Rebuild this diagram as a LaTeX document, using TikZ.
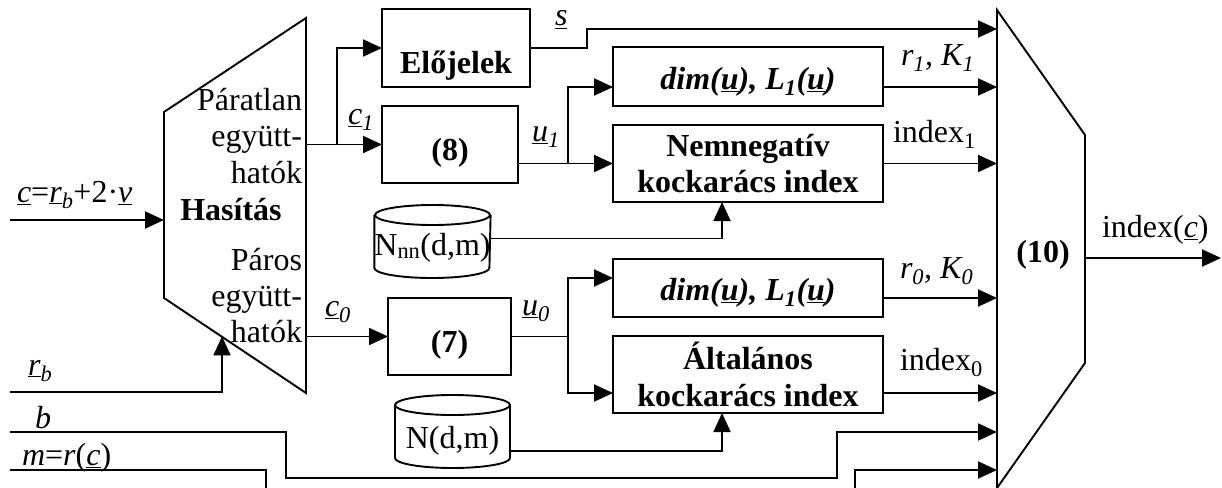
\documentclass[tikz,border=0pt]{standalone}
\usepackage{fontspec}
\setmainfont{Liberation Serif}
\usetikzlibrary{arrows.meta,calc}
\newcommand{\uv}[1]{\underline{\textit{#1}}}
\begin{document}
\begin{tikzpicture}[x=1pt,y=-1pt,line width=1.9pt,
  every node/.style={font=\fontsize{32}{36.5}\selectfont,inner sep=0pt,outer sep=0pt},
  blk/.style={draw,rectangle},
  bf/.style={font=\fontsize{32}{36.5}\selectfont\bfseries},
  lbl/.style={anchor=base west},
  rt/.style={anchor=base east},
  arr/.style={-{Triangle[length=19pt,width=17pt]}}]
\clip (0,0) rectangle (1222,487);
\fill[white] (0,0) rectangle (1222,487);

% Hasitas block
\draw (164,112) -- (306,18) -- (306,393) -- (164,298) -- cycle;
\coordinate (hasin) at (164,220);
\coordinate (hasrb) at (222,336.4);
\coordinate (oddout) at (306,144.5);
\coordinate (evenout) at (306,336.5);
\node[rt] (t1) at (302,110) {Páratlan};
\node[rt] (t2) at (302,146) {együtt-};
\node[rt] (t3) at (302,183) {hatók};
\node[bf,anchor=base] (has) at (231,220) {Hasítás};
\node[rt] (t4) at (302,270) {Páros};
\node[rt] (t5) at (302,306) {együtt-};
\node[rt] (t6) at (302,342) {hatók};

% (10) block
\draw (997,10) -- (1085,135) -- (1085,363) -- (997,488) -- cycle;
\node[bf,anchor=base] (m10) at (1043,262) {(10)};
\coordinate (i1) at (997,29);
\coordinate (i2) at (997,87);
\coordinate (i3) at (997,163.5);
\coordinate (i4) at (997,298);
\coordinate (i5) at (997,393);
\coordinate (i6) at (997,432);
\coordinate (i7) at (997,470);
\coordinate (o10) at (1085,258);
\coordinate (oend) at (1221,258);

% inputs
\coordinate (cin) at (10,220);
\coordinate (rbin) at (10,392);
\coordinate (bin) at (10,432);
\coordinate (mpin) at (10,470);

% boxes
\node[blk,bf,minimum width=148pt,minimum height=78pt,text height=55pt,text depth=5pt] (elo) at (456,48) {Előjelek};
\node[blk,bf,minimum width=136pt,minimum height=77pt,text height=36pt,text depth=5pt] (b8) at (450,144.5) {(8)};
\node[blk,bf,minimum width=123pt,minimum height=77pt,text height=36pt,text depth=5pt] (b7) at (449.5,336.5) {(7)};
\node[blk,bf,minimum width=270pt,minimum height=59pt,text height=30pt,text depth=5pt] (dim1) at (748,76.5) {\textit{dim(\underline{u}), L\textsubscript{1}(\underline{u})}};
\node[blk,bf,minimum width=270pt,minimum height=77pt,align=center] (nn) at (748,163.5) {Nemnegatív\\kockarács index};
\node[blk,bf,minimum width=270pt,minimum height=58pt,text height=29pt,text depth=5pt] (dim0) at (748,288) {\textit{dim(\underline{u}), L\textsubscript{1}(\underline{u})}};
\node[blk,bf,minimum width=270pt,minimum height=77pt,align=center] (alt) at (748,374.5) {Általános\\kockarács index};

% cylinders
\node[minimum width=115pt,minimum height=73pt,text height=32pt,text depth=5pt] (nnn) at (432.5,241.5) {N\textsubscript{nn}(d,m)};
\node[minimum width=115pt,minimum height=73pt,text height=38pt,text depth=5pt] (ndm) at (452.5,431.5) {N(d,m)};
\foreach \c in {nnn,ndm} {
  \draw ([yshift=-10pt]\c.north) ellipse [x radius=57.5pt, y radius=10pt];
  \draw ([yshift=-10pt]\c.north west) -- ([yshift=10pt]\c.south west)
        arc[start angle=180,end angle=360,x radius=57.5pt,y radius=10pt]
        -- ([yshift=-10pt]\c.north east);
}

% connectors
\draw[arr] (cin) -- (hasin);
\draw[arr] (rbin) -| (hasrb);
\draw[arr] (bin) -- ++(276,0) -- ++(0,46) -- ++(551,0) |- (i6);
\draw[arr] (mpin) -- ++(256,0) -- ++(0,30) -- ++(589,0) |- (i7);
\coordinate (j1) at (337,144.5);
\draw[arr] (oddout) -- (b8.west);
\draw[arr] (j1) |- (elo.west);
\draw[arr] (elo.east) -- ++(57,0) |- (i1);
\coordinate (j2) at (568,163.5);
\draw (b8.east |- j2) -- (j2);
\draw[arr] (j2) -- (nn.west);
\draw[arr] (j2) |- ([yshift=-10.5pt]dim1.west);
\draw[arr] ([yshift=-10.5pt]dim1.east) -- (i2);
\draw[arr] (nn.east) -- (i3);
\draw[arr] ([yshift=3pt]nnn.east) -| ([xshift=-26pt]nn.south);
\draw[arr] (evenout) -- (b7.west);
\coordinate (j3) at (568,336.5);
\draw (b7.east) -- (j3);
\draw[arr] (j3) |- ([yshift=10pt]dim0.west);
\draw[arr] (j3) |- ([yshift=-18.5pt]alt.west);
\draw[arr] ([yshift=-10pt]dim0.east) -- (i4);
\draw[arr] ([yshift=-18.5pt]alt.east) -- (i5);
\draw[arr] ([yshift=-19.5pt]ndm.east) -| ([xshift=-26pt]alt.south);
\draw[arr] (o10) -- (oend);

% labels
\node[lbl] (lc) at (17,202) {\uv{c}=\uv{r}\textsubscript{\textit{b}}+2·\uv{v}};
\node[lbl] (lrb) at (28,375) {\uv{r}\textsubscript{\textit{b}}};
\node[lbl] (lb) at (35,428) {\textit{b}};
\node[lbl] (lm) at (22,465) {\textit{m}=\textit{r}(\uv{c})};
\node[lbl] (ls) at (555,26) {\uv{s}};
\node[lbl] (lc1) at (348,124) {\uv{c}\textsubscript{\textit{1}}};
\node[lbl] (lu1) at (532,141) {\uv{u}\textsubscript{\textit{1}}};
\node[lbl] (lc0) at (325,316) {\uv{c}\textsubscript{\textit{0}}};
\node[lbl] (lu0) at (522,315) {\uv{u}\textsubscript{\textit{0}}};
\node[lbl] (lr1) at (901,65) {\textit{r\textsubscript{1}, K\textsubscript{1}}};
\node[lbl] (li1) at (893,142) {index\textsubscript{1}};
\node[lbl] (lr0) at (900,278) {\textit{r\textsubscript{0}, K\textsubscript{0}}};
\node[lbl] (li0) at (900,370) {index\textsubscript{0}};
\node[lbl] (lic) at (1102,237) {index(\uv{c})};
\end{tikzpicture}
\end{document}
